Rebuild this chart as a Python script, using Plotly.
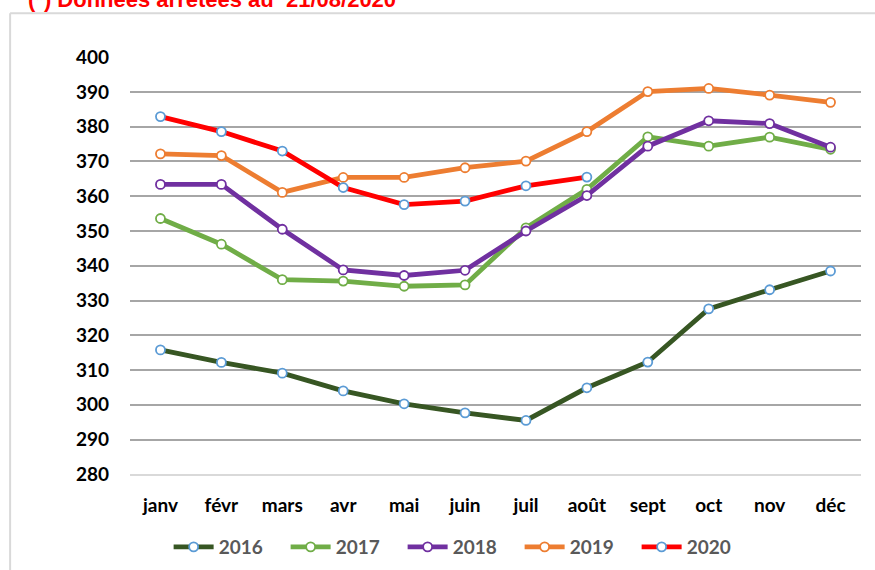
import plotly.graph_objects as go

months = ["janv", "févr", "mars", "avr", "mai", "juin", "juil", "août", "sept", "oct", "nov", "déc"]
y2016 = [315.8, 312.2, 309.1, 304.0, 300.3, 297.7, 295.5, 304.9, 312.3, 327.6, 333.1, 338.5]
y2017 = [353.6, 346.2, 336.0, 335.6, 334.1, 334.5, 350.9, 362.0, 377.1, 374.4, 377.0, 373.5]
y2018 = [363.4, 363.4, 350.5, 338.8, 337.2, 338.7, 350.0, 360.2, 374.4, 381.7, 380.9, 374.1]
y2019 = [372.2, 371.7, 361.1, 365.4, 365.4, 368.2, 370.1, 378.6, 390.1, 391.0, 389.1, 387.0]
y2020 = [382.9, 378.6, 373.0, 362.5, 357.6, 358.6, 363.0, 365.5]
series = [
    ("2016", y2016, "#375623", "#5B9BD5"),
    ("2017", y2017, "#70AD47", "#70AD47"),
    ("2018", y2018, "#7030A0", "#7030A0"),
    ("2019", y2019, "#ED7D31", "#ED7D31"),
    ("2020", y2020, "#FF0000", "#5B9BD5"),
]
yticks = list(range(280, 401, 10))

fig = go.Figure()
for name, ys, col, mcol in series:
    fig.add_trace(go.Scatter(
        x=months[:len(ys)], y=ys, name=name, mode="lines+markers",
        line=dict(color=col, width=4.8),
        marker=dict(symbol="circle", size=9, color="white", line=dict(color=mcol, width=1.8)),
    ))

fig.update_layout(
    width=875, height=570,
    margin=dict(l=130, r=14, t=57, b=93),
    paper_bgcolor="white", plot_bgcolor="white",
    font=dict(family="Lato, Liberation Sans, sans-serif"),
    showlegend=True,
    legend=dict(orientation="h", xref="container", yref="container",
                x=0.527, xanchor="center", y=0.0404, yanchor="middle",
                font=dict(size=19, color="#595959", weight="bold"),
                entrywidth=62, entrywidthmode="pixels", itemwidth=40),
    xaxis=dict(type="category", categoryorder="array", categoryarray=months,
               range=[-0.5, 11.5], showgrid=False, showline=True, linecolor="#D9D9D9", linewidth=1.5,
               ticks="", tickfont=dict(size=19, color="black", weight="bold"), ticklabelstandoff=13),
    yaxis=dict(range=[279.98, 400.05], tickvals=yticks, showgrid=True, gridcolor="#A6A6A6", gridwidth=1.5,
               zeroline=False, showline=False, ticks="",
               tickfont=dict(size=19, color="black", weight="bold"), ticklabelstandoff=20),
    shapes=[
        dict(type="line", xref="paper", yref="paper", x0=-0.164, x1=1.03, y0=1.105, y1=1.105,
             line=dict(color="#D9D9D9", width=2)),
        dict(type="line", xref="paper", yref="paper", x0=-0.164, x1=-0.164, y0=1.105, y1=-0.25,
             line=dict(color="#D9D9D9", width=2)),
    ],
    annotations=[
        dict(text="(*) Données arrêtées au  21/08/2020", xref="paper", yref="paper",
             x=-0.142, y=1.138, xanchor="left", yanchor="middle", showarrow=False,
             font=dict(family="Liberation Sans, Arial, sans-serif", size=22, color="#FF0000", weight="bold")),
    ],
)
fig.write_html("out.html", config={"displayModeBar": False},
               post_script="document.body.style.margin='0px';")
